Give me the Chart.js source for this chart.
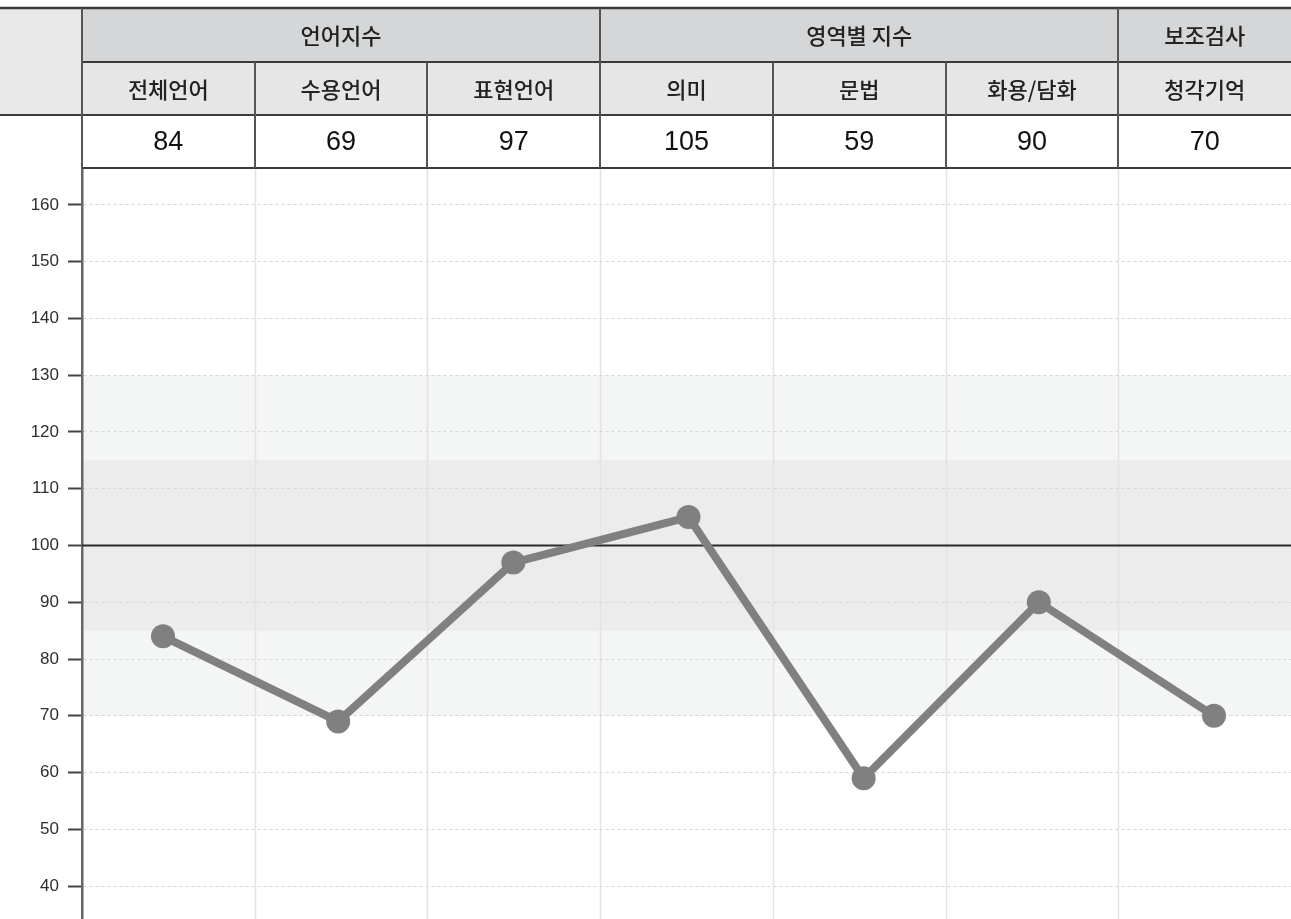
<!DOCTYPE html>
<html>
<head>
<meta charset="utf-8">
<script src="https://cdn.jsdelivr.net/npm/chart.js@4.4.1/dist/chart.umd.min.js"></script>
<style>
html,body{margin:0;padding:0;background:#fff;overflow:hidden;}
canvas{display:block;}
</style>
</head>
<body>
<canvas id="c" width="1291" height="919" style="width:1291px;height:919px"></canvas>
<script>
// ---- data ----
const categories = ['전체언어','수용언어','표현언어','의미','문법','화용/담화','청각기억'];
const scores = [84, 69, 97, 105, 59, 90, 70];
const groupLabels = ['언어지수','영역별 지수','보조검사'];
const groupSpans = [3, 3, 1];
const yTicks = [40, 50, 60, 70, 80, 90, 100, 110, 120, 130, 140, 150, 160];
const bandOuter = [70, 130];
const bandInner = [85, 115];
const baseline = 100;

const KR = '"Noto Sans CJK KR", "Noto Sans", sans-serif';
const NUM = '"Liberation Sans", Arial, sans-serif';

const TABLE_TOP = 8, ROW1_B = 62, ROW2_B = 115, ROW3_B = 168;

const tablePlugin = {
  id: 'tablePlugin',
  beforeDraw(chart) {
    const {ctx, chartArea: a, scales: {y}} = chart;
    ctx.save();
    ctx.fillStyle = '#ffffff';
    ctx.fillRect(0, 0, chart.width, chart.height);
    // bands
    ctx.fillStyle = '#f4f5f5';
    let t = y.getPixelForValue(bandOuter[1]), b = y.getPixelForValue(bandOuter[0]);
    ctx.fillRect(a.left, t, a.right - a.left, b - t);
    ctx.fillStyle = '#ececec';
    t = y.getPixelForValue(bandInner[1]); b = y.getPixelForValue(bandInner[0]);
    ctx.fillRect(a.left, t, a.right - a.left, b - t);
    // column separators
    const n = categories.length, cw = (a.right - a.left) / n;
    ctx.strokeStyle = '#e3e3e3';
    ctx.lineWidth = 1.5;
    for (let i = 1; i < n; i++) {
      const x = Math.round(a.left + i * cw) + 0.5;
      ctx.beginPath(); ctx.moveTo(x, a.top); ctx.lineTo(x, a.bottom); ctx.stroke();
    }
    ctx.restore();
  },
  beforeDatasetsDraw(chart) {
    const {ctx, chartArea: a, scales: {y}} = chart;
    const py = y.getPixelForValue(baseline);
    ctx.save();
    ctx.strokeStyle = '#2a2a2a';
    ctx.lineWidth = 2;
    ctx.beginPath(); ctx.moveTo(a.left, py); ctx.lineTo(a.right, py); ctx.stroke();
    ctx.restore();
  },
  afterDraw(chart) {
    const {ctx, chartArea: a} = chart;
    const W = chart.width;
    const n = categories.length, cw = (a.right - a.left) / n;
    const L = a.left;
    ctx.save();
    // backgrounds
    ctx.fillStyle = '#e8e8e8';
    ctx.fillRect(0, TABLE_TOP, L, ROW2_B - TABLE_TOP);
    ctx.fillStyle = '#d5d6d8';
    ctx.fillRect(L, TABLE_TOP, W - L, ROW1_B - TABLE_TOP);
    ctx.fillStyle = '#e6e6e6';
    ctx.fillRect(L, ROW1_B, W - L, ROW2_B - ROW1_B);
    ctx.fillStyle = '#ffffff';
    ctx.fillRect(L, ROW2_B, W - L, ROW3_B - ROW2_B);

    // horizontal lines
    ctx.strokeStyle = '#3a3a3a';
    ctx.lineWidth = 2.5;
    const hline = (x0, x1, yy) => { ctx.beginPath(); ctx.moveTo(x0, yy); ctx.lineTo(x1, yy); ctx.stroke(); };
    hline(0, W, TABLE_TOP);
    ctx.lineWidth = 2;
    hline(L, W, ROW1_B);
    hline(0, W, ROW2_B);
    hline(L, W, ROW3_B);

    // vertical lines
    ctx.strokeStyle = '#555';
    ctx.lineWidth = 2;
    const vline = (x, y0, y1) => { ctx.beginPath(); ctx.moveTo(x, y0); ctx.lineTo(x, y1); ctx.stroke(); };
    vline(L, TABLE_TOP, ROW3_B);
    let acc = 0;
    for (let g = 0; g < groupSpans.length - 1; g++) {
      acc += groupSpans[g];
      vline(Math.round(L + acc * cw), TABLE_TOP, ROW1_B);
    }
    for (let i = 1; i < n; i++) vline(Math.round(L + i * cw), ROW1_B, ROW3_B);

    // texts
    ctx.textAlign = 'center';
    ctx.textBaseline = 'middle';
    ctx.fillStyle = '#222';
    ctx.font = '500 22px ' + KR;
    acc = 0;
    for (let g = 0; g < groupLabels.length; g++) {
      const cx = L + (acc + groupSpans[g] / 2) * cw;
      ctx.fillText(groupLabels[g], cx, (TABLE_TOP + ROW1_B) / 2 + 1);
      acc += groupSpans[g];
    }
    for (let i = 0; i < n; i++) {
      ctx.fillText(categories[i], L + (i + 0.5) * cw, (ROW1_B + ROW2_B) / 2 + 1);
    }
    ctx.fillStyle = '#111';
    ctx.font = '27px ' + NUM;
    for (let i = 0; i < n; i++) {
      ctx.fillText(String(scores[i]), L + (i + 0.5) * cw, (ROW2_B + ROW3_B) / 2 + 1);
    }
    ctx.restore();
  }
};

new Chart(document.getElementById('c'), {
  type: 'line',
  data: {
    datasets: [{
      data: scores.map((v, i) => ({x: i, y: v})),
      borderColor: '#808080',
      backgroundColor: '#808080',
      borderWidth: 8,
      pointRadius: 12,
      pointBackgroundColor: '#808080',
      pointBorderWidth: 0,
      tension: 0,
      fill: false
    }]
  },
  options: {
    responsive: false,
    maintainAspectRatio: false,
    animation: false,
    events: [],
    layout: {autoPadding: false, padding: {top: ROW3_B, left: 0, right: 0, bottom: 0}},
    plugins: {legend: {display: false}, tooltip: {enabled: false}},
    scales: {
      x: {
        type: 'linear',
        display: false,
        min: -0.4624,
        max: 6.4396
      },
      y: {
        position: 'left',
        min: 34.2,
        max: 166.5,
        afterBuildTicks: s => { s.ticks = yTicks.map(v => ({value: v})); },
        afterFit: s => { s.width = 82; s.paddingTop = 0; s.paddingBottom = 0; },
        ticks: {
          color: '#2e2e2e',
          font: {family: NUM, size: 17},
          padding: 9
        },
        grid: {
          color: '#d6d6d6',
          lineWidth: 1,
          tickColor: '#444',
          tickWidth: 2,
          tickLength: 14,
          drawTicks: true
        },
        border: {
          color: '#666',
          width: 2.5,
          dash: [3, 3]
        }
      }
    }
  },
  plugins: [tablePlugin]
});
</script>
</body>
</html>
